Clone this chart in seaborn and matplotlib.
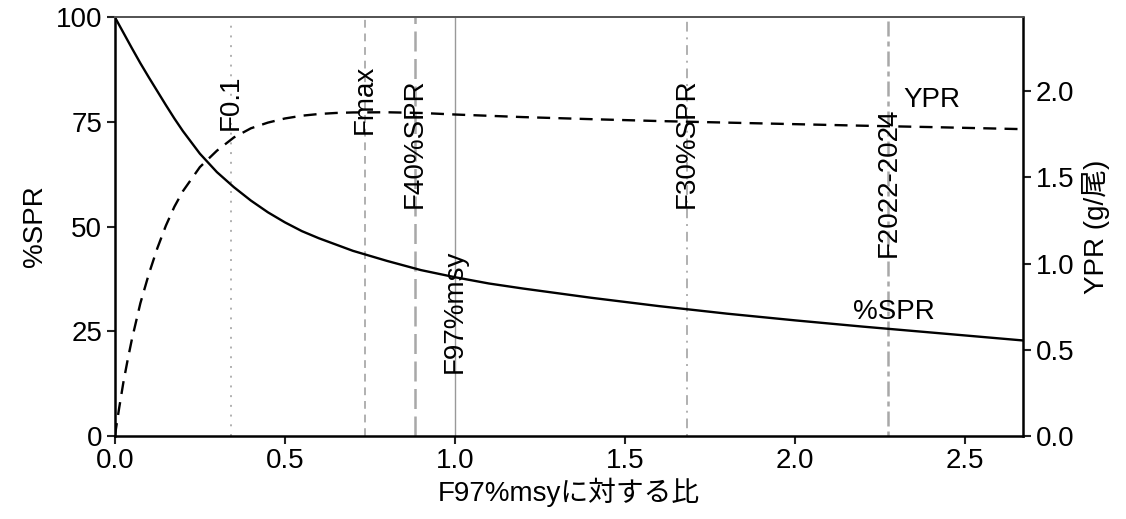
import matplotlib
matplotlib.use("Agg")
import matplotlib.pyplot as plt
import seaborn as sns
import pandas as pd

# %SPR curve (left axis)
spr_x = [0.0, 0.025, 0.05, 0.075, 0.1, 0.125, 0.15, 0.175, 0.2, 0.25, 0.3, 0.35, 0.4,
         0.45, 0.5, 0.55, 0.6, 0.65, 0.7, 0.8, 0.9, 1.0, 1.1, 1.2, 1.4, 1.6, 1.8, 2.0,
         2.2, 2.4, 2.67]
spr_y = [100.0, 96.3, 92.6, 89.0, 85.6, 82.3, 79.0, 75.8, 72.8, 67.4, 63.0, 59.4, 56.2,
         53.4, 51.0, 48.9, 47.2, 45.7, 44.2, 41.8, 39.6, 37.9, 36.4, 35.2, 33.0, 31.0,
         29.2, 27.6, 26.1, 24.7, 22.8]

# YPR curve (right axis, g/尾)
ypr_x = [0.0, 0.0125, 0.025, 0.0375, 0.05, 0.075, 0.1, 0.125, 0.15, 0.175, 0.2, 0.25,
         0.3, 0.35, 0.4, 0.45, 0.5, 0.55, 0.6, 0.65, 0.7, 0.8, 0.9, 1.0, 1.2, 1.4, 1.6,
         1.8, 2.0, 2.2, 2.4, 2.67]
ypr_y = [0.0, 0.16, 0.31, 0.44, 0.56, 0.77, 0.94, 1.09, 1.22, 1.33, 1.42, 1.56,
         1.655, 1.732, 1.785, 1.818, 1.842, 1.858, 1.868, 1.874, 1.877, 1.878, 1.874,
         1.865, 1.850, 1.838, 1.827, 1.818, 1.809, 1.800, 1.792, 1.78]

# reference points (ratio to F97%msy)
ref_names = ["F0.1", "Fmax", "F40%SPR", "F97%msy", "F30%SPR", "F2022-2024"]
ref_x = [0.341, 0.735, 0.882, 1.0, 1.682, 2.274]
ref_label_y = [79.7, 80.4, 70.0, 29.8, 70.0, 60.5]

sns.set_theme(style="ticks")
plt.rcParams["font.family"] = ["Liberation Sans", "Noto Sans CJK JP", "DejaVu Sans"]
plt.rcParams["text.color"] = "black"
plt.rcParams["axes.labelcolor"] = "black"

fig = plt.figure(figsize=(11.26, 5.19), dpi=100)
ax = fig.add_axes([0.102, 0.16, 0.8065, 0.807])
ax2 = ax.twinx()

ref_styles = [
    dict(ls=(0, (1, 4)), lw=1.4, color="#B0B0B0"),
    dict(ls=(0, (4, 3)), lw=1.4, color="#B0B0B0"),
    dict(ls=(0, (8, 3)), lw=1.8, color="#A8A8A8"),
    dict(ls="-", lw=1.0, color="#999999"),
    dict(ls=(0, (1, 3, 5, 3)), lw=1.4, color="#B0B0B0"),
    dict(ls=(0, (2, 2, 6, 2)), lw=1.8, color="#A8A8A8"),
]
for xv, st in zip(ref_x, ref_styles):
    ax.axvline(xv, color=st["color"], linestyle=st["ls"], linewidth=st["lw"], zorder=1)

spr_df = pd.DataFrame({"x": spr_x, "spr": spr_y})
ypr_df = pd.DataFrame({"x": ypr_x, "ypr": ypr_y})
sns.lineplot(data=spr_df, x="x", y="spr", ax=ax, color="black", linewidth=1.7, zorder=3)
sns.lineplot(data=ypr_df, x="x", y="ypr", ax=ax2, color="black", linewidth=1.7,
             linestyle=(0, (5.5, 3.5)), zorder=3)

for name, xv, yv in zip(ref_names, ref_x, ref_label_y):
    ax.text(xv, yv, name, rotation=90, ha="center", va="center", fontsize=20,
            color="black", zorder=4)

ax.text(2.29, 29.6, "%SPR", ha="center", va="center", fontsize=20, color="black")
ax.text(2.318, 80.2, "YPR", ha="left", va="center", fontsize=20, color="black")

ax.set_xlim(0, 2.67)
ax.set_ylim(0, 100)
ax2.set_ylim(0, 2.43)
ax.set_xticks([0.0, 0.5, 1.0, 1.5, 2.0, 2.5])
ax.set_xticklabels(["0.0", "0.5", "1.0", "1.5", "2.0", "2.5"])
ax.set_yticks([0, 25, 50, 75, 100])
ax2.set_yticks([0.0, 0.5, 1.0, 1.5, 2.0])
ax2.set_yticklabels(["0.0", "0.5", "1.0", "1.5", "2.0"])

ax.set_xlabel("F97%msyに対する比", fontsize=20, labelpad=2, color="black")
ax.set_ylabel("%SPR", fontsize=20, labelpad=6, color="black")
ax2.set_ylabel("YPR (g/尾)", fontsize=20, labelpad=6, color="black")

for a in (ax, ax2):
    a.tick_params(axis="both", labelsize=20, length=6, width=1.5, color="#222222",
                  labelcolor="black", pad=3)
    for side in ("left", "right", "bottom"):
        a.spines[side].set_color("black")
        a.spines[side].set_linewidth(1.8)
    a.spines["top"].set_visible(True)
    a.spines["top"].set_color("#555555")
    a.spines["top"].set_linewidth(1.3)
ax.spines["right"].set_visible(False)
ax2.spines["left"].set_visible(False)
ax2.spines["bottom"].set_visible(False)

fig.savefig("out.png", dpi=100)
